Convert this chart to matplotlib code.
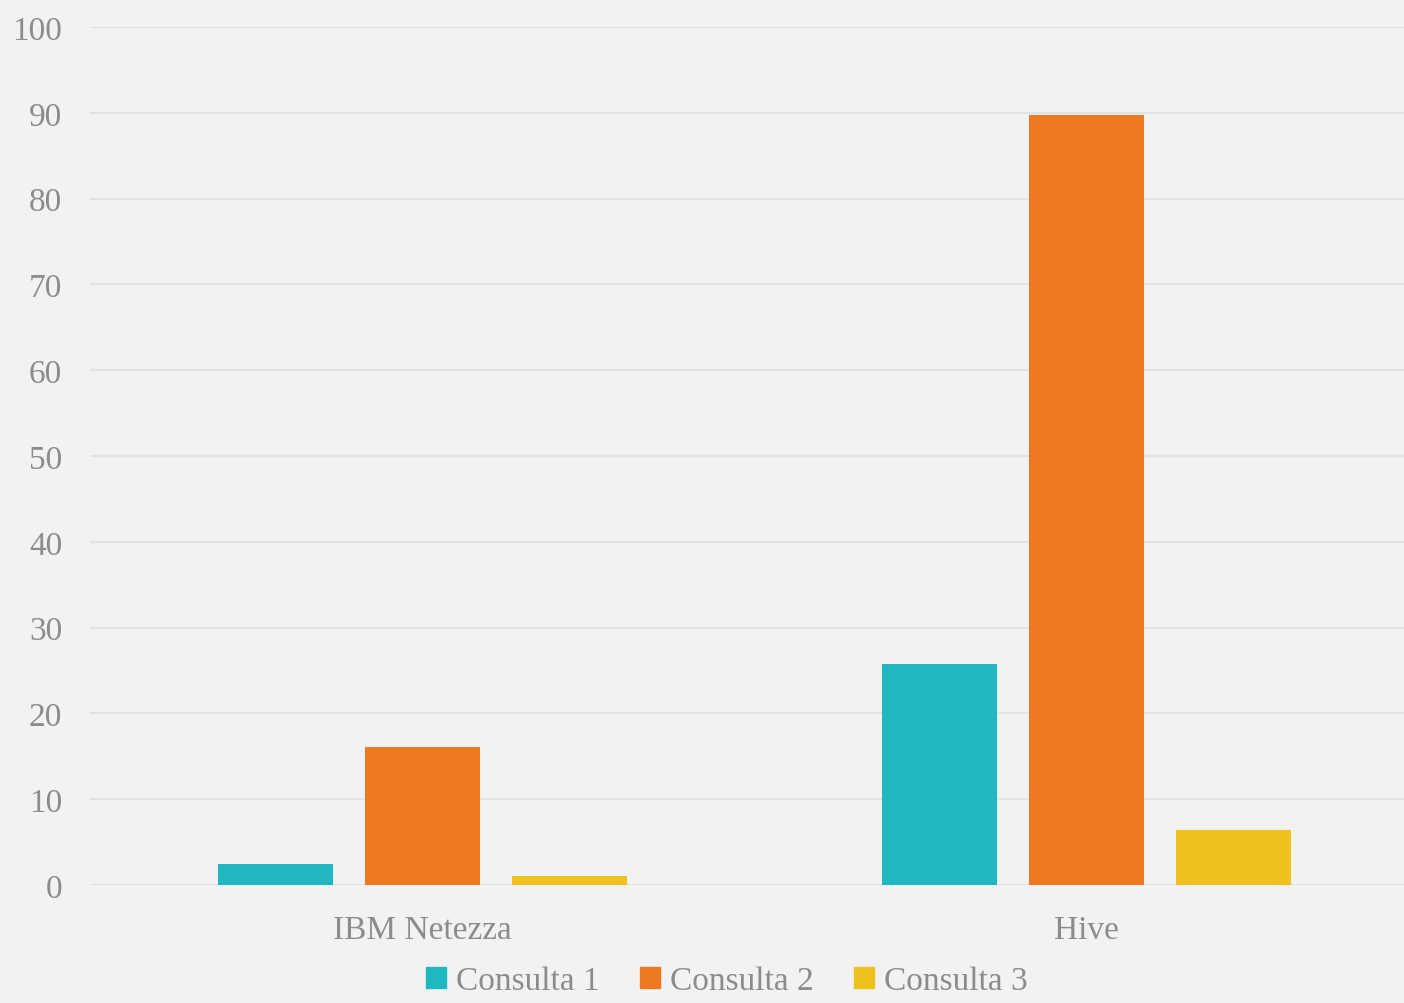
import numpy as np
import matplotlib.pyplot as plt
from matplotlib.patches import Patch

categories = ['IBM Netezza', 'Hive']
series = ['Consulta 1', 'Consulta 2', 'Consulta 3']
consulta1 = [2.5, 25.8]
consulta2 = [16.1, 89.8]
consulta3 = [1.1, 6.4]
colors = ['#1fb8c0', '#ee7922', '#efc11c']

bg = '#f2f2f2'
txt = '#8c8c8c'
plt.rcParams['font.family'] = ['Liberation Serif', 'DejaVu Serif']

fig = plt.figure(figsize=(14.04, 10.04), dpi=100, facecolor=bg)
# axes runs a bit past the right edge, as in the original
ax = fig.add_axes([90 / 1404, 118 / 1004, 1329 / 1404, 858 / 1004], facecolor=bg)

x = np.arange(len(categories))
w = 0.173
pitch = 0.221
for i, vals in enumerate([consulta1, consulta2, consulta3]):
    ax.bar(x + (i - 1) * pitch, vals, width=w, color=colors[i], zorder=3)

ax.set_xlim(-0.5, 1.5)
ax.set_ylim(0, 100)
ax.set_yticks(np.arange(0, 101, 10))
ax.set_xticks(x)
ax.set_xticklabels(categories)
ax.grid(axis='y', color='#e2e2e2', lw=1.5, zorder=0)
ax.set_axisbelow(True)
for s in ax.spines.values():
    s.set_visible(False)
ax.tick_params(length=0, labelsize=24, labelcolor=txt)
ax.tick_params(axis='y', pad=20)
ax.tick_params(axis='x', pad=21)

handles = [Patch(color=c, label=s) for c, s in zip(colors, series)]
fig.legend(handles=handles, loc='lower center', bbox_to_anchor=(727 / 1404, 0.0),
           borderaxespad=0.1, borderpad=0.1,
           ncol=3, frameon=False, fontsize=24, labelcolor=txt,
           handlelength=0.6, handleheight=0.6, handletextpad=0.3, columnspacing=1.2)

fig.savefig('out.png', dpi=100, facecolor=bg)
